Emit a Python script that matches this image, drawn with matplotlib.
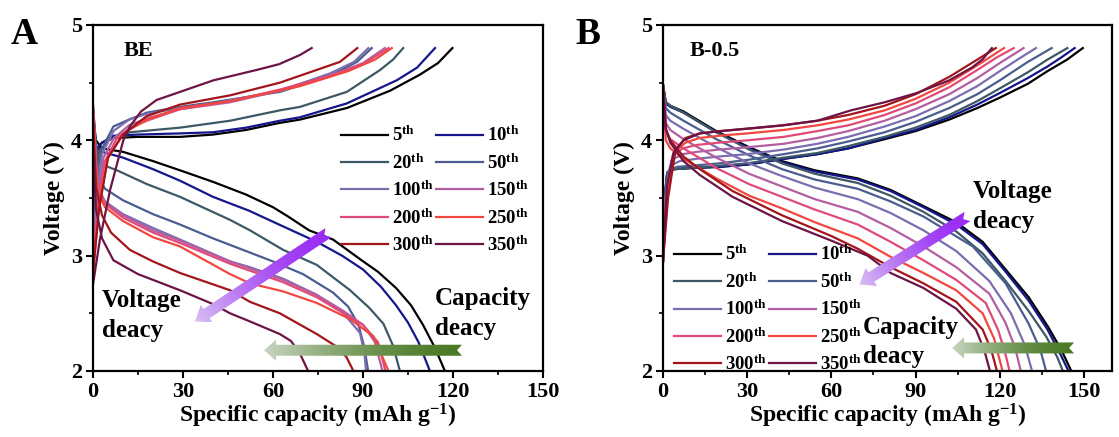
import numpy as np
import matplotlib
matplotlib.use("Agg")
import matplotlib.pyplot as plt
from matplotlib.patches import Polygon
from matplotlib.ticker import MultipleLocator

plt.rcParams['font.family'] = ['Liberation Serif', 'DejaVu Serif']
plt.rcParams['font.weight'] = 'bold'
plt.rcParams['mathtext.fontset'] = 'custom'
plt.rcParams['mathtext.rm'] = 'Liberation Serif:bold'
plt.rcParams['mathtext.bf'] = 'Liberation Serif:bold'
plt.rcParams['mathtext.it'] = 'Liberation Serif:bold:italic'

# ---------------- data ----------------
cycles = ['5', '10', '20', '50', '100', '150', '200', '250', '300', '350']
colors = ['#000000', '#16168c', '#3e5866', '#4a5d8e', '#7a6db0',
          '#b45ea2', '#e04a78', '#f2473f', '#a3151b', '#6c1545']

# Panel A (BE): discharge curves (capacity, voltage)
A_discharge = [
    [(0, 4.15), (1, 4.0), (3, 3.93), (10, 3.90), (20, 3.82), (29, 3.74), (40, 3.64), (51, 3.53), (60, 3.42), (65, 3.34), (72, 3.22), (80, 3.14), (89, 2.97), (95, 2.86), (101, 2.72), (106, 2.57), (110, 2.40), (114, 2.2), (117.3, 2.0)],
    [(0, 4.3), (1, 3.95), (3, 3.9), (10, 3.85), (20, 3.75), (29, 3.65), (40, 3.51), (52, 3.39), (62, 3.27), (74.6, 3.12), (83, 3.0), (90, 2.88), (96, 2.73), (101, 2.57), (105, 2.42), (108.5, 2.25), (112.3, 2.0)],
    [(0, 4.25), (1.5, 3.85), (4, 3.78), (8, 3.74), (18, 3.62), (29, 3.51), (45.7, 3.31), (52.3, 3.22), (63.4, 3.05), (74.6, 2.92), (85.7, 2.70), (92, 2.55), (96.8, 2.41), (100, 2.22), (102.3, 2.0)],
    [(0, 4.2), (1.5, 3.7), (4, 3.58), (10, 3.48), (20, 3.36), (29, 3.27), (40, 3.15), (50, 3.05), (60, 2.95), (70, 2.84), (80, 2.68), (85, 2.56), (88.5, 2.40), (90.5, 2.2), (91.7, 2.0)],
    [(0, 4.2), (1.5, 3.6), (4, 3.47), (10, 3.36), (20, 3.24), (29, 3.14), (45.7, 2.95), (52.3, 2.90), (63.4, 2.80), (74.6, 2.66), (83.5, 2.50), (89, 2.33), (90.5, 2.15), (91, 2.0)],
    [(0, 4.25), (1.5, 3.6), (4, 3.46), (10, 3.35), (20, 3.22), (29, 3.13), (45.7, 2.95), (52.3, 2.89), (63.4, 2.79), (74.6, 2.66), (83.5, 2.52), (90, 2.40), (94, 2.25), (96.5, 2.0)],
    [(0, 4.3), (1.5, 3.58), (4, 3.45), (10, 3.33), (20, 3.20), (29, 3.11), (45.7, 2.93), (52.3, 2.87), (63.4, 2.77), (74.6, 2.64), (83.5, 2.50), (90, 2.40), (95, 2.25), (97.5, 2.0)],
    [(0, 4.25), (1.5, 3.55), (4, 3.42), (10, 3.30), (20, 3.16), (29, 3.08), (45.7, 2.84), (52.3, 2.76), (63.4, 2.69), (74.6, 2.59), (85.7, 2.45), (93.5, 2.30), (96, 2.15), (98.5, 2.0)],
    [(0, 4.2), (1, 3.6), (3, 3.35), (6, 3.2), (12.3, 3.05), (20, 2.95), (29, 2.85), (45.7, 2.70), (52.3, 2.60), (62.3, 2.50), (74.6, 2.32), (81.3, 2.21), (84.5, 2.12), (86.8, 2.0)],
    [(0, 4.0), (1, 3.4), (3, 3.15), (6.8, 2.96), (15, 2.84), (29, 2.70), (40, 2.58), (45.7, 2.50), (52.3, 2.43), (62.3, 2.32), (66, 2.26), (69, 2.15), (71.7, 2.0)],
]
# Panel A (BE): charge curves
A_charge = [
    [(0, 3.0), (0.5, 3.6), (1.5, 3.93), (3, 3.98), (6.8, 4.02), (15, 4.03), (29, 4.03), (40, 4.05), (51, 4.09), (62, 4.15), (69, 4.18), (84.6, 4.28), (99, 4.43), (109, 4.57), (115, 4.67), (119.8, 4.8)],
    [(0, 3.0), (0.5, 3.6), (1.5, 3.93), (3, 3.98), (6.8, 4.04), (15, 4.05), (29, 4.06), (40, 4.07), (51, 4.11), (62.3, 4.17), (69, 4.2), (84.6, 4.32), (101.2, 4.52), (108, 4.63), (114, 4.8)],
    [(0, 3.0), (0.7, 3.6), (2, 3.9), (5, 4.0), (12.3, 4.07), (29, 4.11), (45.7, 4.17), (62.3, 4.26), (69, 4.29), (84.6, 4.42), (95.7, 4.61), (100, 4.7), (103.4, 4.8)],
    [(0, 3.0), (1, 3.6), (2.5, 3.9), (6.8, 4.12), (12, 4.18), (17.9, 4.24), (29, 4.29), (40.1, 4.33), (62.3, 4.42), (79, 4.56), (88, 4.68), (92.9, 4.8)],
    [(0, 3.0), (1, 3.5), (3, 3.88), (6.8, 4.08), (12, 4.18), (17.9, 4.23), (29, 4.28), (40.1, 4.32), (62.3, 4.43), (79, 4.58), (87, 4.68), (91.8, 4.8)],
    [(0, 2.95), (1.5, 3.5), (3.5, 3.85), (7, 4.02), (12, 4.13), (17.9, 4.19), (29, 4.27), (45.7, 4.33), (62.3, 4.43), (79, 4.56), (90, 4.67), (97.3, 4.8)],
    [(0, 2.9), (1.5, 3.45), (4, 3.82), (8, 4.02), (12, 4.10), (17.9, 4.17), (29, 4.27), (45.7, 4.34), (62.3, 4.44), (79, 4.56), (90, 4.66), (98.5, 4.8)],
    [(0, 2.85), (2, 3.45), (5, 3.85), (10.1, 4.06), (17.9, 4.18), (29, 4.28), (45.7, 4.34), (69, 4.47), (85, 4.6), (94, 4.7), (99.6, 4.8)],
    [(0, 2.85), (2, 3.4), (5, 3.85), (10, 4.05), (17.9, 4.21), (29, 4.31), (45.7, 4.39), (62.3, 4.50), (73.4, 4.6), (82.3, 4.68), (88.1, 4.8)],
    [(0, 2.75), (2.3, 3.14), (5.7, 3.57), (10.1, 4.0), (12.3, 4.12), (16, 4.25), (21.2, 4.35), (29, 4.42), (40.1, 4.52), (54.5, 4.61), (62, 4.66), (69, 4.74), (72.9, 4.8)],
]

# Panel B (B-0.5): discharge curves
B_discharge = [
    [(0, 4.48), (1, 4.33), (2.6, 4.30), (7.3, 4.25), (19, 4.08), (30.7, 3.94), (42.4, 3.82), (54.1, 3.74), (69.4, 3.67), (81.1, 3.57), (92.8, 3.43), (104.5, 3.29), (113.9, 3.12), (122.1, 2.88), (130.3, 2.64), (137.3, 2.38), (142, 2.18), (145.5, 2.0)],
    [(0, 4.48), (1, 4.32), (2.6, 4.29), (7.3, 4.24), (19, 4.07), (30.7, 3.93), (42.4, 3.81), (54.1, 3.73), (69.4, 3.66), (81.1, 3.56), (92.8, 3.42), (104.5, 3.27), (113.9, 3.10), (122.1, 2.86), (130.3, 2.61), (137, 2.36), (141.5, 2.15), (144.5, 2.0)],
    [(0, 4.48), (1, 4.33), (2.6, 4.30), (7.3, 4.24), (19, 4.07), (30.7, 3.92), (42.4, 3.80), (54.1, 3.71), (69.4, 3.63), (81.1, 3.52), (92.8, 3.38), (104.5, 3.21), (113.9, 3.02), (122.1, 2.78), (130.3, 2.52), (136.5, 2.30), (140.5, 2.12), (142.5, 2.0)],
    [(0, 4.48), (1, 4.28), (2.6, 4.24), (7.3, 4.17), (19, 4.01), (30.7, 3.87), (42.4, 3.75), (54.1, 3.66), (69.4, 3.58), (81.1, 3.47), (92.8, 3.34), (110.4, 3.08), (122.1, 2.76), (130.3, 2.41), (134.5, 2.18), (136.5, 2.0)],
    [(0, 4.48), (1, 4.22), (2.6, 4.17), (7.3, 4.10), (19, 3.94), (30.7, 3.80), (42.4, 3.69), (54.1, 3.59), (69.4, 3.49), (81.1, 3.37), (92.8, 3.22), (104.5, 3.04), (116.3, 2.78), (124, 2.50), (129, 2.22), (131.5, 2.0)],
    [(0, 4.48), (1, 4.15), (2.6, 4.09), (7.3, 4.01), (19, 3.85), (30.7, 3.71), (42.4, 3.60), (54.1, 3.49), (69.4, 3.38), (81.1, 3.24), (92.8, 3.08), (104.5, 2.90), (116.3, 2.67), (122, 2.42), (125.5, 2.2), (127.5, 2.0)],
    [(0, 4.48), (1, 4.08), (2.6, 4.01), (7.3, 3.93), (19, 3.76), (30.7, 3.62), (42.4, 3.51), (54.1, 3.40), (69.4, 3.27), (81.1, 3.12), (92.8, 2.96), (104.5, 2.79), (115, 2.59), (119.5, 2.35), (122, 2.15), (123.5, 2.0)],
    [(0, 4.48), (1, 4.0), (2.6, 3.93), (7.3, 3.84), (19, 3.67), (30.7, 3.52), (42.4, 3.41), (54.1, 3.29), (69.4, 3.15), (81.1, 2.99), (92.8, 2.85), (104.5, 2.70), (113.9, 2.50), (118, 2.28), (121, 2.0)],
    [(0, 4.48), (1, 4.1), (2.6, 4.0), (7.3, 3.86), (13.1, 3.75), (24.8, 3.56), (42.4, 3.35), (60, 3.17), (69.4, 3.06), (81.1, 2.90), (92.8, 2.76), (104.5, 2.60), (113.9, 2.36), (117, 2.18), (119, 2.0)],
    [(0, 4.48), (1, 4.1), (2.6, 3.98), (7.3, 3.82), (13.1, 3.70), (24.8, 3.51), (42.4, 3.30), (60, 3.13), (72.9, 3.00), (81.1, 2.85), (92.8, 2.72), (104.5, 2.54), (111.5, 2.36), (114.5, 2.18), (116.5, 2.0)],
]
# Panel B (B-0.5): charge curves
B_charge = [
    [(0, 2.95), (0.6, 3.5), (1.5, 3.72), (4, 3.75), (10, 3.76), (20, 3.77), (30, 3.79), (43, 3.84), (55, 3.88), (66, 3.93), (79, 4.01), (90, 4.08), (102, 4.18), (112, 4.28), (120, 4.37), (130, 4.49), (137, 4.6), (144, 4.7), (149.6, 4.8)],
    [(0, 2.95), (0.6, 3.5), (1.5, 3.72), (4, 3.75), (10, 3.76), (20, 3.77), (30, 3.79), (43, 3.84), (55, 3.88), (66, 3.93), (79, 4.02), (90, 4.09), (102, 4.2), (112, 4.31), (120, 4.41), (130, 4.54), (137, 4.64), (142, 4.72), (146.7, 4.8)],
    [(0, 2.95), (0.6, 3.5), (1.5, 3.72), (4, 3.75), (10, 3.76), (20, 3.78), (30, 3.80), (43, 3.85), (55, 3.89), (66, 3.95), (79, 4.03), (90, 4.11), (102, 4.22), (112, 4.34), (120, 4.45), (130, 4.59), (137, 4.7), (144.1, 4.8)],
    [(0, 2.95), (0.7, 3.5), (2, 3.74), (5, 3.77), (10, 3.78), (20, 3.80), (30, 3.83), (43, 3.88), (55, 3.93), (66, 3.99), (79, 4.07), (90, 4.16), (102, 4.28), (112, 4.40), (120, 4.52), (130, 4.68), (138.5, 4.8)],
    [(0, 2.95), (0.8, 3.5), (2.5, 3.78), (6, 3.82), (12, 3.84), (20, 3.86), (30, 3.88), (43, 3.92), (55, 3.97), (66, 4.03), (79, 4.12), (90, 4.21), (102, 4.34), (112, 4.47), (120, 4.60), (127, 4.71), (132.9, 4.8)],
    [(0, 2.95), (1, 3.5), (3, 3.83), (7, 3.88), (12, 3.90), (20, 3.92), (30, 3.94), (43, 3.97), (55, 4.02), (66, 4.08), (79, 4.17), (90, 4.27), (102, 4.40), (112, 4.54), (120, 4.67), (128.5, 4.8)],
    [(0, 2.95), (1.2, 3.5), (3.5, 3.87), (7, 3.93), (12, 3.96), (20, 3.98), (30, 4.0), (43, 4.03), (55, 4.08), (66, 4.13), (79, 4.22), (90, 4.32), (102, 4.46), (112, 4.61), (119, 4.72), (125, 4.8)],
    [(0, 2.95), (1.5, 3.5), (4, 3.9), (8, 3.98), (13, 4.02), (20, 4.04), (30, 4.06), (43, 4.09), (55, 4.13), (66, 4.18), (79, 4.26), (90, 4.36), (102, 4.50), (112, 4.65), (121.5, 4.8)],
    [(0, 2.95), (1.8, 3.5), (4.5, 3.92), (8, 4.02), (13, 4.06), (20, 4.08), (30, 4.10), (43, 4.13), (55, 4.17), (66, 4.22), (79, 4.3), (90, 4.40), (102, 4.55), (112, 4.7), (118.6, 4.8)],
    [(0, 2.97), (1.4, 3.6), (3.7, 3.89), (7.3, 4.0), (13.1, 4.06), (24.8, 4.09), (42.4, 4.13), (55, 4.17), (67, 4.26), (79, 4.33), (90.4, 4.41), (102, 4.52), (110, 4.63), (113.8, 4.70), (117.2, 4.8)],
]

# ---------------- helpers ----------------
def grad_arrow(ax, tail, tip, c_tail, c_tip, shaft_w, head_w, head_l, notch):
    """Arrow drawn in pixel space with a colour gradient from tail to tip."""
    T = ax.transData
    a = np.array(T.transform(tail)); b = np.array(T.transform(tip))
    d = b - a; L = np.hypot(*d); u = d / L; n = np.array([-u[1], u[0]])
    hb = b - u * head_l
    pts = [a + n * shaft_w / 2, hb + n * shaft_w / 2, hb + n * head_w / 2, b,
           hb - n * head_w / 2, hb - n * shaft_w / 2, a - n * shaft_w / 2, a + u * notch]
    dpts = T.inverted().transform(np.array(pts))
    poly = Polygon(dpts, closed=True, facecolor='none', edgecolor='none')
    ax.add_patch(poly)
    x0, y0 = dpts.min(axis=0); x1, y1 = dpts.max(axis=0)
    nx, ny = 200, 200
    gx = np.linspace(x0, x1, nx); gy = np.linspace(y0, y1, ny)
    GX, GY = np.meshgrid(gx, gy)
    disp = T.transform(np.column_stack([GX.ravel(), GY.ravel()]))
    t = ((disp - a) @ u / L).reshape(ny, nx)
    t = np.clip(t, 0, 1) ** 1.6
    ct = np.array(matplotlib.colors.to_rgb(c_tail)); ch = np.array(matplotlib.colors.to_rgb(c_tip))
    img = ct[None, None, :] * (1 - t[..., None]) + ch[None, None, :] * t[..., None]
    im = ax.imshow(img, extent=(x0, x1, y0, y1), origin='lower', aspect='auto',
                   interpolation='bilinear', zorder=5)
    im.set_clip_path(poly)


def style_axes(ax, xmax):
    ax.set_xlim(0, xmax)
    ax.set_ylim(2, 5)
    ax.xaxis.set_major_locator(MultipleLocator(30))
    ax.xaxis.set_minor_locator(MultipleLocator(15))
    ax.yaxis.set_major_locator(MultipleLocator(1))
    ax.yaxis.set_minor_locator(MultipleLocator(0.5))
    ax.tick_params(which='major', direction='out', length=5, width=1.5, labelsize=16, pad=3)
    ax.tick_params(which='minor', direction='out', length=3, width=1.2)
    for sp in ax.spines.values():
        sp.set_linewidth(1.6)
    for lab in ax.get_xticklabels() + ax.get_yticklabels():
        lab.set_fontweight('bold')
    ax.set_xlabel('Specific capacity (mAh g$^{\\mathrm{-1}}$)', fontsize=17, fontweight='bold', labelpad=0)
    ax.set_ylabel('Voltage (V)', fontsize=17, fontweight='bold', labelpad=4)


def draw_curves(ax, dis, cha):
    handles = []
    for i, cyc in enumerate(cycles):
        c = np.array(cha[i]); d = np.array(dis[i])
        h, = ax.plot(c[:, 0], c[:, 1], color=colors[i], lw=1.6,
                     label=cyc + '$^{\\mathrm{th}}$')
        ax.plot(d[:, 0], d[:, 1], color=colors[i], lw=1.6)
        handles.append(h)
    # legend fills row by row: reorder for matplotlib's column-wise filling
    return handles[0::2] + handles[1::2]

# ---------------- figure ----------------
W, H = 1119, 437
fig = plt.figure(figsize=(W / 100, H / 100), dpi=100)
axA = fig.add_axes([93 / W, 66 / H, 450 / W, 346 / H])
axB = fig.add_axes([663 / W, 66 / H, 449 / W, 346 / H])

leg_kw = dict(ncol=2, frameon=False, loc='upper left', fontsize=13.5, handlelength=2.5,
              handletextpad=0.2, columnspacing=0.15, labelspacing=0.43, borderpad=0)

# Panel A
hA = draw_curves(axA, A_discharge, A_charge)
style_axes(axA, 150)
axA.legend(handles=hA, bbox_to_anchor=(0.53, 0.736), **leg_kw)
axA.text(0.068, 0.925, 'BE', transform=axA.transAxes, fontsize=16, fontweight='bold', va='center')
axA.text(3, 2.61, 'Voltage', fontsize=18, fontweight='bold', va='center')
axA.text(3, 2.35, 'deacy', fontsize=18, fontweight='bold', va='center')
axA.text(114, 2.63, 'Capacity', fontsize=18, fontweight='bold', va='center')
axA.text(114, 2.37, 'deacy', fontsize=18, fontweight='bold', va='center')
grad_arrow(axA, (78.5, 3.2), (34, 2.43), '#9a2cf5', '#d8c0f2', 11, 21, 14, 5)
grad_arrow(axA, (123, 2.18), (57, 2.18), '#4b7a26', '#c9d6c2', 11, 21, 12, 5)

# Panel B
hB = draw_curves(axB, B_discharge, B_charge)
style_axes(axB, 160)
axB.legend(handles=hB, bbox_to_anchor=(0.004, 0.392), **leg_kw)
axB.text(0.06, 0.925, 'B-0.5', transform=axB.transAxes, fontsize=16, fontweight='bold', va='center')
axB.text(110.5, 3.56, 'Voltage', fontsize=18, fontweight='bold', va='center')
axB.text(110.5, 3.30, 'deacy', fontsize=18, fontweight='bold', va='center')
axB.text(71.3, 2.38, 'Capacity', fontsize=18, fontweight='bold', va='center')
axB.text(71.3, 2.13, 'deacy', fontsize=18, fontweight='bold', va='center')
grad_arrow(axB, (108.5, 3.34), (70, 2.75), '#9a2cf5', '#d8c0f2', 11, 21, 14, 5)
grad_arrow(axB, (146.5, 2.2), (103, 2.2), '#4b7a26', '#c9d6c2', 11, 21, 12, 5)

fig.text(11 / W, 1 - 35 / H, 'A', fontsize=27, fontweight='bold', va='center')
fig.text(575 / W, 1 - 35 / H, 'B', fontsize=27, fontweight='bold', va='center')

fig.savefig('out.png', dpi=100)
